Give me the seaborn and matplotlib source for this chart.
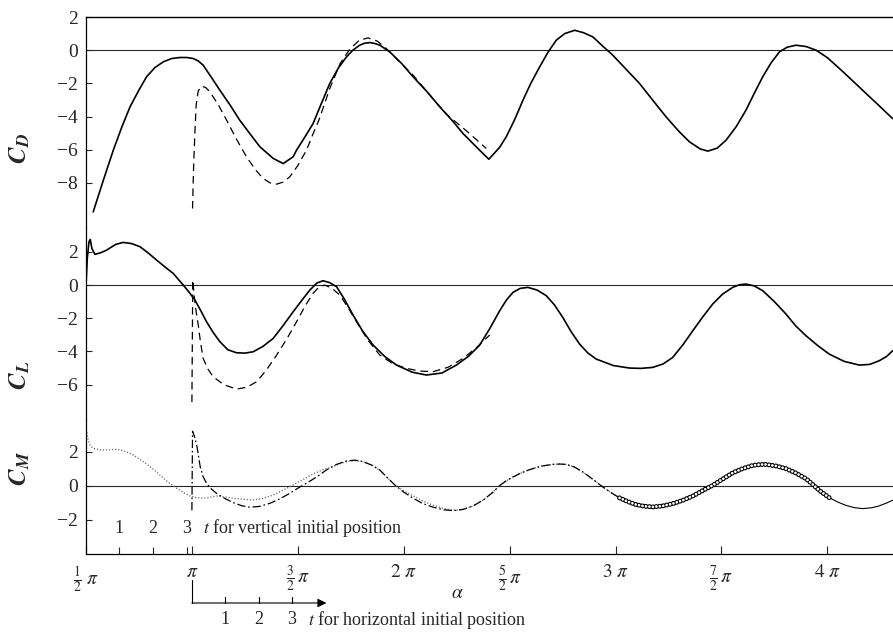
import pandas as pd
import seaborn as sns
import matplotlib.pyplot as plt

# alpha is stored in units of pi
cd_solid_a = [0.534, 0.582, 0.629, 0.670, 0.708, 0.750, 0.786, 0.825, 0.865, 0.905, 0.943, 0.975,
              1.006, 1.030, 1.053, 1.090, 1.132, 1.180, 1.226, 1.275, 1.321, 1.384, 1.431, 1.478,
              1.494, 1.530, 1.572, 1.610, 1.651, 1.690, 1.730, 1.760, 1.792, 1.815, 1.840, 1.865,
              1.887, 1.934, 1.990, 2.044, 2.110, 2.170, 2.230, 2.280, 2.358, 2.402, 2.453, 2.484,
              2.525, 2.563, 2.600, 2.642, 2.680, 2.720, 2.760, 2.807, 2.850, 2.893, 2.940, 2.987,
              3.050, 3.113, 3.175, 3.239, 3.300, 3.349, 3.400, 3.436, 3.480, 3.522, 3.570, 3.616,
              3.655, 3.695, 3.735, 3.774, 3.810, 3.852, 3.900, 3.947, 4.000, 4.057, 4.120, 4.183,
              4.245, 4.308]
cd_solid_v = [-9.74, -7.83, -6.02, -4.60, -3.41, -2.40, -1.60, -1.05, -0.70, -0.50, -0.44, -0.44,
              -0.50, -0.65, -0.90, -1.60, -2.41, -3.30, -4.22, -5.05, -5.82, -6.52, -6.83, -6.42,
              -6.02, -5.30, -4.42, -3.25, -2.00, -1.10, -0.40, 0.00, 0.30, 0.42, 0.46, 0.40,
              0.30, -0.10, -0.80, -1.60, -2.50, -3.41, -4.25, -5.02, -6.02, -6.57, -5.85, -5.22,
              -4.15, -3.01, -2.00, -1.00, -0.15, 0.60, 1.00, 1.20, 1.05, 0.80, 0.24, -0.30,
              -1.15, -2.00, -3.00, -4.02, -4.90, -5.52, -5.95, -6.08, -5.90, -5.42, -4.60, -3.61,
              -2.60, -1.60, -0.75, -0.10, 0.18, 0.30, 0.22, 0.00, -0.45, -1.10, -1.85, -2.61,
              -3.35, -4.12]

cd_dash_a = [1.003, 1.008, 1.014, 1.020, 1.030, 1.046, 1.065, 1.085, 1.125, 1.164, 1.210, 1.258,
             1.300, 1.336, 1.370, 1.400, 1.430, 1.462, 1.500, 1.541, 1.570, 1.600, 1.651, 1.700,
             1.745, 1.790, 1.832, 1.875, 1.918, 1.980, 2.044, 2.120, 2.201, 2.300, 2.390]
cd_dash_v = [-9.54, -7.00, -5.00, -3.30, -2.45, -2.17, -2.25, -2.51, -3.30, -4.22, -5.35, -6.43,
             -7.20, -7.73, -8.00, -8.07, -7.95, -7.63, -6.95, -6.02, -5.10, -4.20, -2.30, -0.80,
             0.05, 0.60, 0.74, 0.55, 0.10, -0.70, -1.50, -2.65, -3.85, -4.90, -5.92]

cl_solid_a = [0.500, 0.506, 0.514, 0.520, 0.528, 0.542, 0.570, 0.598, 0.640, 0.676, 0.715, 0.755,
              0.795, 0.833, 0.872, 0.912, 0.959, 0.985, 1.014, 1.040, 1.069, 1.100, 1.132, 1.170,
              1.211, 1.250, 1.289, 1.335, 1.384, 1.430, 1.478, 1.520, 1.557, 1.590, 1.619, 1.650,
              1.683, 1.720, 1.761, 1.805, 1.855, 1.910, 1.966, 2.040, 2.107, 2.180, 2.249, 2.305,
              2.358, 2.405, 2.453, 2.485, 2.516, 2.550, 2.586, 2.630, 2.673, 2.712, 2.751, 2.790,
              2.830, 2.870, 2.909, 2.990, 3.066, 3.120, 3.176, 3.225, 3.270, 3.318, 3.365, 3.410,
              3.459, 3.505, 3.553, 3.585, 3.616, 3.655, 3.695, 3.750, 3.805, 3.850, 3.899, 3.955,
              4.009, 4.080, 4.151, 4.200, 4.245, 4.280, 4.308]
cl_solid_v = [0.00, 1.60, 2.60, 2.75, 2.20, 1.85, 1.95, 2.11, 2.45, 2.57, 2.50, 2.31,
              1.92, 1.51, 1.10, 0.70, 0.00, -0.40, -0.90, -1.50, -2.21, -2.85, -3.41, -3.90,
              -4.08, -4.10, -4.02, -3.70, -3.21, -2.45, -1.61, -0.90, -0.30, 0.12, 0.26, 0.15,
              -0.10, -0.85, -1.81, -2.75, -3.61, -4.30, -4.82, -5.25, -5.42, -5.30, -4.82, -4.30,
              -3.63, -2.65, -1.55, -0.90, -0.44, -0.20, -0.14, -0.30, -0.64, -1.20, -1.95, -2.80,
              -3.55, -4.10, -4.46, -4.85, -5.00, -5.02, -4.96, -4.75, -4.36, -3.60, -2.75, -1.95,
              -1.14, -0.55, -0.14, 0.02, 0.06, -0.05, -0.34, -1.00, -1.75, -2.45, -3.05, -3.65,
              -4.16, -4.60, -4.82, -4.78, -4.56, -4.30, -3.96]

cl_dash_a = [1.000, 1.004, 1.012, 1.020, 1.030, 1.040, 1.053, 1.075, 1.100, 1.150, 1.211, 1.260,
             1.305, 1.350, 1.400, 1.450, 1.494, 1.535, 1.572, 1.600, 1.627, 1.660, 1.698, 1.737,
             1.777, 1.830, 1.887, 1.950, 2.013, 2.075, 2.138, 2.210, 2.280, 2.345, 2.406]
cl_dash_v = [-7.05, 0.30, -0.80, -1.60, -2.41, -3.40, -4.42, -5.05, -5.52, -6.00, -6.27, -6.15,
             -5.83, -5.15, -4.22, -3.20, -2.21, -1.25, -0.50, -0.12, 0.00, -0.18, -0.60, -1.35,
             -2.21, -3.30, -4.22, -4.75, -5.02, -5.18, -5.22, -4.95, -4.42, -3.75, -3.01]

cm_dot_a = [0.502, 0.510, 0.520, 0.534, 0.566, 0.605, 0.645, 0.685, 0.723, 0.762, 0.802, 0.835,
            0.865, 0.897, 0.928, 0.960, 0.991, 1.020, 1.053, 1.085, 1.116, 1.155, 1.195, 1.240,
            1.289, 1.335, 1.384, 1.430, 1.478, 1.525, 1.572, 1.620, 1.667, 1.705, 1.745, 1.780,
            1.808, 1.850, 1.887, 1.920, 1.958, 2.000, 2.044, 2.090, 2.139, 2.190, 2.233, 2.280,
            2.327, 2.375, 2.420, 2.453]
cm_dot_v = [3.30, 2.70, 2.35, 2.20, 2.10, 2.10, 2.14, 2.02, 1.80, 1.48, 1.12, 0.78,
            0.44, 0.12, -0.15, -0.40, -0.61, -0.70, -0.74, -0.68, -0.61, -0.66, -0.74, -0.80,
            -0.84, -0.75, -0.55, -0.27, 0.04, 0.36, 0.69, 0.94, 1.12, 1.32, 1.45, 1.46,
            1.41, 1.20, 0.92, 0.50, 0.04, -0.30, -0.60, -0.90, -1.15, -1.35, -1.45, -1.40,
            -1.20, -0.85, -0.40, 0.00]

cm_dash_a = [1.000, 1.003, 1.012, 1.024, 1.039, 1.052, 1.069, 1.090, 1.116, 1.155, 1.195, 1.235,
             1.274, 1.320, 1.368, 1.415, 1.462, 1.500, 1.541, 1.590, 1.635, 1.683, 1.730, 1.770,
             1.808, 1.850, 1.887, 1.920, 1.958, 2.000, 2.044, 2.090, 2.139, 2.190, 2.233, 2.280,
             2.327, 2.375, 2.420, 2.453]
cm_dash_v = [-1.45, 3.20, 2.90, 2.30, 1.12, 0.55, 0.14, -0.18, -0.45, -0.75, -1.00, -1.18,
             -1.27, -1.22, -1.04, -0.78, -0.45, -0.15, 0.14, 0.52, 0.92, 1.25, 1.45, 1.50,
             1.41, 1.20, 0.92, 0.50, 0.04, -0.38, -0.74, -1.05, -1.27, -1.42, -1.47, -1.40,
             -1.20, -0.85, -0.40, 0.00]

# both initial positions give the same moment curve from about 5/2 pi on
cm_late_a = [2.453, 2.480, 2.516, 2.555, 2.594, 2.650, 2.704, 2.735, 2.767, 2.805, 2.846, 2.890,
             2.940, 2.980, 3.019, 3.060, 3.098, 3.135, 3.176, 3.220, 3.270, 3.320, 3.365, 3.410,
             3.459, 3.505, 3.553, 3.600, 3.648, 3.680, 3.711, 3.760, 3.805, 3.850, 3.899, 3.930,
             3.962, 4.009, 4.050, 4.088, 4.130, 4.167, 4.210, 4.245, 4.280, 4.308]
cm_late_v = [0.00, 0.25, 0.51, 0.75, 0.94, 1.15, 1.25, 1.27, 1.25, 1.10, 0.80, 0.40,
             -0.08, -0.42, -0.72, -0.95, -1.12, -1.21, -1.25, -1.20, -1.06, -0.85, -0.61, -0.30,
             0.02, 0.38, 0.75, 1.00, 1.19, 1.24, 1.25, 1.15, 1.00, 0.75, 0.41, 0.08,
             -0.28, -0.71, -0.97, -1.16, -1.30, -1.35, -1.30, -1.19, -1.02, -0.86]
merged_until = 3.019
circle_from, circle_to = 3.0, 4.02

x_ticks = [0.5, 1.0, 1.5, 2.0, 2.5, 3.0, 3.5, 4.0]
x_labels = [r'$\frac{1}{2}\ \pi$', r'$\pi$', r'$\frac{3}{2}\,\pi$', r'$2\ \pi$',
            r'$\frac{5}{2}\,\pi$', r'$3\ \pi$', r'$\frac{7}{2}\,\pi$', r'$4\ \pi$']
cd_yticks = [2, 0, -2, -4, -6, -8]
cl_yticks = [2, 0, -2, -4, -6]
cm_yticks = [2, 0, -2]

# t scales (positions on the alpha axis)
vert_t = ['1', '2', '3']
vert_t_alpha = [0.657, 0.817, 0.975]
horiz_t = ['1', '2', '3']
horiz_t_alpha = [1.156, 1.317, 1.473]
horiz_origin = 1.0

sns.set_style('ticks')
plt.rcParams['font.family'] = ['Liberation Serif', 'DejaVu Serif']
plt.rcParams['mathtext.fontset'] = 'stix'
plt.rcParams['lines.scale_dashes'] = False
plt.rcParams['axes.edgecolor'] = 'black'

W, H = 893, 635
fig = plt.figure(figsize=(W / 100, H / 100), dpi=100)


def panel(top, bottom):
    return fig.add_axes([86 / W, 1 - bottom / H, (W - 86) / W, (bottom - top) / H])


ax_d = panel(17, 227.8)
ax_l = panel(227.8, 420)
ax_m = panel(420, 554)


def curve(ax, a, v, **kw):
    kw.setdefault('color', 'black')
    sns.lineplot(x=a, y=v, ax=ax, sort=False, estimator=None, legend=False, **kw)


dash = (0, (5.5, 3.5))
dashdot = (0, (6, 2, 1.2, 2))
dots = (0, (0.8, 1.4))

curve(ax_d, cd_solid_a, cd_solid_v, lw=1.2)
curve(ax_d, cd_dash_a, cd_dash_v, lw=0.9, linestyle=dash)

curve(ax_l, cl_solid_a, cl_solid_v, lw=1.2)
curve(ax_l, cl_dash_a, cl_dash_v, lw=0.9, linestyle=dash)

late = pd.DataFrame({'a': cm_late_a, 'v': cm_late_v})
early = late[late['a'] <= merged_until]
rest = late[late['a'] >= merged_until]
curve(ax_m, cm_dot_a, cm_dot_v, lw=0.9, linestyle=dots, color='0.35')
curve(ax_m, cm_dash_a, cm_dash_v, lw=0.9, linestyle=dashdot)
curve(ax_m, early['a'], early['v'], lw=0.9, linestyle=dots, color='0.35')
curve(ax_m, early['a'], early['v'], lw=0.9, linestyle=dashdot)
curve(ax_m, rest['a'], rest['v'], lw=0.8)
ring = late[(late['a'] >= circle_from) & (late['a'] <= circle_to)]
curve(ax_m, ring['a'], ring['v'], lw=3.6, linestyle=(0, (0.01, 2.5)), dash_capstyle='round')
curve(ax_m, ring['a'], ring['v'], lw=2.0, linestyle=(0, (0.01, 2.5)), dash_capstyle='round',
      color='white')

limits = [(ax_d, (-10.7, 2.0), cd_yticks), (ax_l, (-8.13, 3.45), cl_yticks),
          (ax_m, (-4.02, 3.86), cm_yticks)]
for ax, ylim, yt in limits:
    ax.set_xlim(0.5, 4.31)
    ax.set_ylim(*ylim)
    ax.axhline(0, color='0.15', lw=0.8, zorder=0)
    ax.set_yticks(yt)
    ax.set_yticklabels([str(t).replace('-', '\u2212') for t in yt])
    ax.tick_params(axis='y', direction='in', length=4, width=0.8, pad=6, labelsize=14)
    ax.set_facecolor('none')
    for s in ['top', 'right', 'bottom']:
        ax.spines[s].set_visible(False)
    ax.spines['left'].set_linewidth(0.9)
    ax.set_xlabel('')
    ax.set_ylabel('')

ax_d.spines['top'].set_visible(True)
ax_d.spines['top'].set_linewidth(1.0)
for ax in [ax_d, ax_l]:
    ax.set_xticks([])

ax_m.spines['bottom'].set_visible(True)
ax_m.spines['bottom'].set_linewidth(0.9)
ax_m.set_xticks(x_ticks)
ax_m.set_xticklabels(x_labels)
ax_m.set_xticks(vert_t_alpha, minor=True)
ax_m.tick_params(axis='x', which='major', direction='in', length=6, width=0.8, pad=7,
                 labelsize=14)
ax_m.tick_params(axis='x', which='minor', direction='in', length=5, width=0.8)

# t scale for the vertical initial position
for lab, a in zip(vert_t, vert_t_alpha):
    ax_m.text(a, -2.5, lab, ha='center', va='center', fontsize=13)
ax_m.text(1.052, -2.5, r'$t$ for vertical initial position', ha='left', va='center',
          fontsize=13)

# t scale for the horizontal initial position, below the alpha axis (y in pixels)
ax_t = fig.add_axes([86 / W, 0, (W - 86) / W, 70 / H])
ax_t.set_xlim(0.5, 4.31)
ax_t.set_ylim(635, 565)
ax_t.axis('off')
ax_t.plot([horiz_origin, horiz_origin], [580, 603], color='black', lw=0.8)
ax_t.annotate('', xy=(1.635, 603), xytext=(horiz_origin, 603),
              arrowprops=dict(arrowstyle='-|>', color='black', lw=0.8, mutation_scale=13,
                              shrinkA=0, shrinkB=0))
for lab, a in zip(horiz_t, horiz_t_alpha):
    ax_t.plot([a, a], [597, 603], color='black', lw=0.8)
    ax_t.text(a, 620, lab, ha='center', va='center', fontsize=13)
ax_t.text(1.547, 620, r'$t$ for horizontal initial position', ha='left', va='center',
          fontsize=13)

fig.text(457 / W, 1 - 593 / H, r'$\alpha$', ha='center', va='center', fontsize=14)

fig.text(20 / W, 1 - 148 / H, r'$\mathbfit{C}_{\mathbfit{D}}$', rotation=90,
         ha='center', va='center', fontsize=18)
fig.text(20 / W, 1 - 375 / H, r'$\mathbfit{C}_{\mathbfit{L}}$', rotation=90,
         ha='center', va='center', fontsize=18)
fig.text(20 / W, 1 - 468 / H, r'$\mathbfit{C}_{\mathbfit{M}}$', rotation=90,
         ha='center', va='center', fontsize=18)

fig.savefig('out.png', dpi=100)
